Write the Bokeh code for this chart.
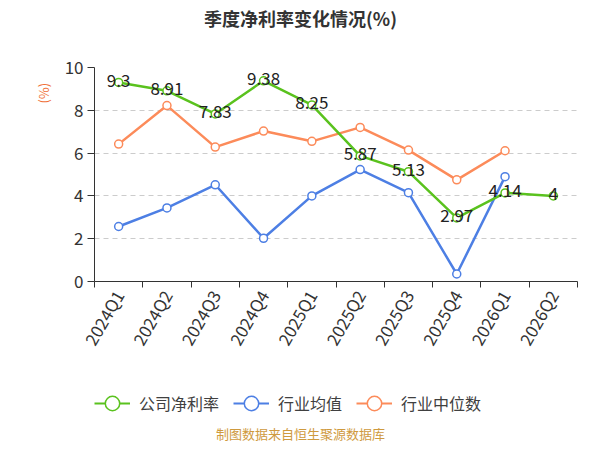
import numpy as np
from bokeh.plotting import figure
from bokeh.layouts import column
from bokeh.models import Range1d, FixedTicker, Legend, LegendItem, Label, LinearAxis
from bokeh.core.properties import value
from bokeh.embed import file_html
from bokeh.resources import INLINE

quarters = ["2024Q1", "2024Q2", "2024Q3", "2024Q4", "2025Q1",
            "2025Q2", "2025Q3", "2025Q4", "2026Q1", "2026Q2"]
company = [9.3, 8.91, 7.83, 9.38, 8.25, 5.87, 5.13, 2.97, 4.14, 4.0]
ind_mean = [2.57, 3.44, 4.52, 2.02, 4.0, 5.23, 4.15, 0.35, 4.9]
ind_median = [6.42, 8.22, 6.28, 7.03, 6.55, 7.2, 6.14, 4.75, 6.11]
yticks = [0, 2, 4, 6, 8, 10]
series_names = ["公司净利率", "行业均值", "行业中位数"]
title_text = "季度净利率变化情况(%)"
ylabel_text = "(%)"
footer_text = "制图数据来自恒生聚源数据库"

FONT = "Noto Sans CJK SC"
GREEN = "#5ac21e"
BLUE = "#4d7fe4"
ORANGE = "#fc8b5a"
W = 592
YLABEL_POS = 8.8

n = len(quarters)
xpos = [i + 0.5 for i in range(n)]


def blank(h):
    f = figure(width=W, height=h, x_range=Range1d(0, 1), y_range=Range1d(0, 1),
               output_backend="svg", toolbar_location=None,
               x_axis_location=None, y_axis_location=None,
               min_border=0, min_border_left=0, min_border_right=0,
               min_border_top=0, min_border_bottom=0)
    f.outline_line_color = None
    f.xgrid.visible = False
    f.ygrid.visible = False
    return f


# ---- top: title (frame is aligned with the main chart's frame, left edge at x=94)
top = blank(47)
top.add_layout(Label(x=206, y=30, x_units="screen", y_units="screen", text=title_text,
                     text_align="center", text_baseline="middle", text_font=FONT,
                     text_font_size="18px", text_font_style="bold", text_color="#333333"))

# ---- main chart
p = figure(width=W, height=333, x_range=Range1d(0, n), y_range=Range1d(0, 10),
           output_backend="svg", toolbar_location=None,
           min_border_left=94, min_border_right=15, min_border_top=20, min_border_bottom=99)
p.outline_line_color = None
p.xgrid.visible = False
p.ygrid.grid_line_color = "#cccccc"
p.ygrid.grid_line_dash = "5 4"
p.ygrid.grid_line_width = 1

xa = p.xaxis[0]
xa.ticker = FixedTicker(ticks=xpos, minor_ticks=list(range(n + 1)))
xa.major_label_overrides = {x: q for x, q in zip(xpos, quarters)}
xa.major_label_orientation = np.pi / 3
xa.major_tick_out = 0
xa.major_tick_in = 0
xa.minor_tick_out = 6
xa.minor_tick_in = 0
xa.minor_tick_line_color = "#333333"
xa.axis_line_color = "#333333"
xa.major_label_text_font = FONT
xa.major_label_text_font_size = "17px"
xa.major_label_text_color = "#333333"
xa.major_label_standoff = 4

ya = p.yaxis[0]
ya.ticker = FixedTicker(ticks=yticks)
ya.minor_tick_line_color = None
ya.major_tick_out = 7
ya.major_tick_in = 0
ya.major_tick_line_color = "#333333"
ya.axis_line_color = "#333333"
ya.major_label_text_font = FONT
ya.major_label_text_font_size = "17px"
ya.major_label_text_color = "#333333"
ya.major_label_standoff = 4

# unit label as a second left axis with a single labelled tick
ua = LinearAxis(ticker=FixedTicker(ticks=[YLABEL_POS]),
                major_label_overrides={YLABEL_POS: ylabel_text})
ua.axis_line_color = None
ua.major_tick_line_color = None
ua.minor_tick_line_color = None
ua.major_label_orientation = "vertical"
ua.major_label_text_font = FONT
ua.major_label_text_font_size = "13px"
ua.major_label_text_color = "#f07038"
ua.major_label_standoff = 2
p.add_layout(ua, "left")

p.line(xpos[:len(ind_median)], ind_median, line_color=ORANGE, line_width=2.5)
p.scatter(xpos[:len(ind_median)], ind_median, marker="circle", size=8,
          line_color=ORANGE, fill_color="white", line_width=1.5)
p.line(xpos[:len(ind_mean)], ind_mean, line_color=BLUE, line_width=2.5)
p.scatter(xpos[:len(ind_mean)], ind_mean, marker="circle", size=8,
          line_color=BLUE, fill_color="white", line_width=1.5)
p.line(xpos, company, line_color=GREEN, line_width=2.5)
p.scatter(xpos, company, marker="circle", size=8,
          line_color=GREEN, fill_color="white", line_width=1.5)

p.text(x=xpos, y=company, text=[f"{v:g}" for v in company],
       text_align="center", text_baseline="middle", y_offset=-2,
       text_font=value(FONT), text_font_size="17px", text_color="#222222")

# ---- bottom: legend + footer
bot = blank(62)
items = []
for name, col in zip(series_names, [GREEN, BLUE, ORANGE]):
    rl = bot.line([np.nan], [np.nan], line_color=col, line_width=2)
    rs = bot.scatter([np.nan], [np.nan], marker="circle", size=8,
                     line_color=col, fill_color="white", line_width=1.5)
    items.append(LegendItem(label=name, renderers=[rl, rs]))
legend = Legend(items=items, orientation="horizontal", location=(0, 20))
legend.glyph_width = 36
legend.glyph_height = 38
legend.label_standoff = 9
legend.spacing = 14
legend.padding = 0
legend.margin = 0
legend.border_line_color = None
legend.background_fill_alpha = 0
legend.label_text_font = FONT
legend.label_text_font_size = "16px"
legend.label_text_color = "#404040"
bot.add_layout(legend)
bot.add_layout(Label(x=206, y=9, x_units="screen", y_units="screen", text=footer_text,
                     text_align="center", text_baseline="middle", text_font=FONT,
                     text_font_size="13px", text_color="#cf9a3e"))

layout = column(top, p, bot, spacing=0)
open("out.html", "w").write(file_html(layout, INLINE))
